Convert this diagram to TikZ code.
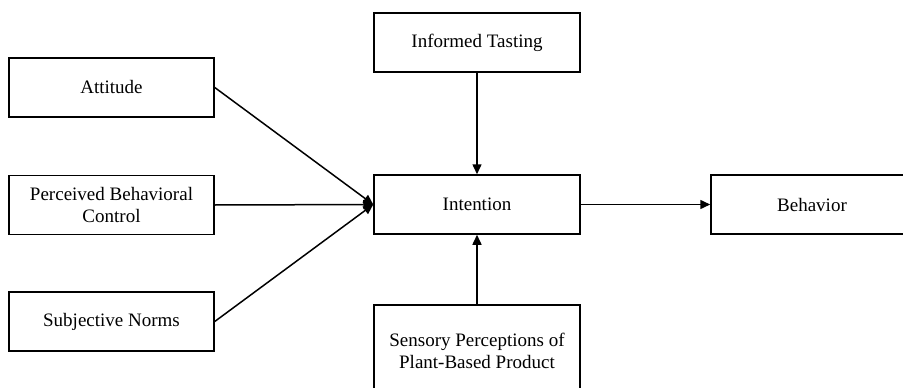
\documentclass[tikz,border=0pt]{standalone}
\usepackage{fontspec}
\setmainfont{Liberation Serif}
\usetikzlibrary{arrows.meta}
\begin{document}
\begin{tikzpicture}[x=1pt,y=-1pt,
  box/.style={draw,line width=1.5pt,minimum width=#1,minimum height=59pt,
    inner sep=0pt,align=center,font=\fontsize{19}{22}\selectfont},
  box/.default=205pt,
  link/.style={line width=1.5pt,-{Triangle[length=10pt,width=9pt]}},
  plain/.style={line width=1.5pt}]
\useasboundingbox (0,0) rectangle (903,388);
\clip (0,0) rectangle (903,388);
\fill[white] (0,0) rectangle (903,388);

% predictors on the left
\node[box] (att) at (111.5,87.5) {Attitude};
\node[box] (pbc) at (111.5,205) {Perceived Behavioral\\Control};
\node[box] (sn)  at (111.5,321.5) {Subjective Norms};

% central column
\node[box=206pt] (tast) at (477,42.5) {Informed Tasting};
\node[box=206pt] (int)  at (477,204.5) {Intention};
\node[box=206pt,minimum height=92pt] (sens) at (477,351) {Sensory Perceptions of\\Plant-Based Product};

% outcome
\node[box=202pt] (beh) at (812,204.5) {Behavior};

% paths
\draw[link] (att.east) -- (int.west);
\draw[link] (pbc.east) -- (int.west);
\draw[link] (sn.east) -- (int.west);
\draw[link] (int.east) -- (beh.west);
\draw[link] (tast.south) -- (int.north);
\draw[link] (sens.north) -- (int.south);
\end{tikzpicture}
\end{document}
